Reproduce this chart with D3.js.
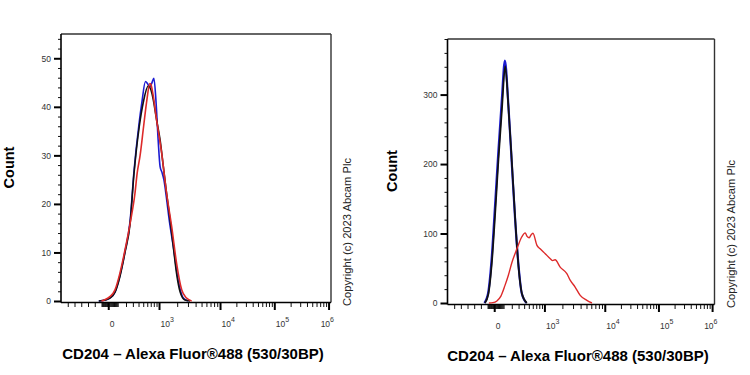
<!DOCTYPE html>
<html>
<head>
<meta charset="utf-8">
<script src="https://cdn.jsdelivr.net/npm/d3@7"></script>
<style>
  body { margin: 0; background: #fff; }
  svg { display: block; font-family: Arial, 'Liberation Sans', sans-serif; }
</style>
</head>
<body>
<svg id="chart"></svg>
<script>
// ---- shared x axis (biexponential display) ----
const xMajorValues = [0, 1e3, 1e4, 1e5, 1e6];
const xMajorLabels = ['0', '10^3', '10^4', '10^5', '10^6'];
// intensity anchors and the display channel (0..1000) they land on
const biexValues = [-700, 0, 1e3, 1e4, 1e5, 1e6];
const biexChannels = [0, 175, 363, 589, 790, 991];

// ---- left panel: [display channel, count] ----
const left_blue = [[140,0],[165,0.2],[181,0.6],[200,1.8],[218,5.2],[237,10.2],[256,16.5],[270,26.5],[289,36.5],[299,40.7],
  [313,45.2],[320,44.8],[329,44.1],[337,45],[344,45.9],[352,41],[360,33],[367,27.7],[374,26.5],[381,25],[390,21.5],
  [400,17],[416,11.2],[434,4.3],[453,0.6],[470,0]];
const left_black = [[140,0],[165,0.2],[181,0.6],[200,1.8],[218,5],[237,10],[256,16],[270,26],[290,36],[305,41],
  [323,44.3],[333,43.5],[342,41.4],[354,37.3],[367,33.2],[379,27.7],[391,22.2],[404,16.7],[416,11.2],[428,5.7],
  [441,1.9],[459,0.2],[478,0]];
const left_red = [[150,0],[160,0.2],[181,0.9],[200,2.3],[218,5.7],[237,10.5],[256,16],[274,22.2],[282,26.3],[293,30],
  [306,36],[318,41.4],[329,44.8],[333,44.6],[340,42.8],[354,37.3],[373,30.4],[391,22.2],[410,15.3],[428,7.8],
  [447,2.3],[465,0.6],[484,0]];

// ---- right panel: [display channel, count] ----
const right_blue = [[138,0],[152,14],[165,62],[178,140],[190,215],[203,290],[215,349],[228,285],[240,206],[253,122],
  [266,54],[278,14],[296,0]];
const right_black = [[140,0],[153,13],[166,58],[179,132],[191,208],[204,280],[216,341],[228,283],[241,203],[254,118],
  [266,52],[279,13],[297,0]];
const right_red = [[155,0],[170,0.5],[185,3],[200,10],[215,25],[228,40],[241,58],[260,78],[278,95],[291,101],[298,96],
  [306,94],[313,98],[320,100.4],[335,83],[347,78],[366,71],[385,63.7],[394,61],[403,62.2],[422,51.7],[447,42.2],
  [460,32.6],[478,23],[497,11],[522,3.9],[541,0]];

const xTitle = 'CD204 \u2013 Alexa Fluor\u00AE488 (530/30BP)';
const yTitle = 'Count';
const note = 'Copyright (c) 2023 Abcam Plc';

const seriesColors = { blue: '#1c1cd2', black: '#111111', red: '#dd2a2a' };

const biexT = v => v < 0 ? v / 250 : Math.asinh(v / 250);

// minor ticks of the biex axis
let xMinorValues = [];
for (let k = 1; k <= 6; k++) xMinorValues.push(-100 * k);
for (let k = 1; k <= 9; k++) { xMinorValues.push(-10 * k); xMinorValues.push(10 * k); xMinorValues.push(100 * k); }
for (let d = 3; d <= 5; d++) for (let k = 2; k <= 9; k++) xMinorValues.push(k * Math.pow(10, d));

class FlowHistogram {
  constructor(config, series) {
    this.config = {
      parent: config.parent,
      left: config.left,
      top: config.top,
      width: config.width,
      height: config.height,
      ymax: config.ymax,
      ymajor: config.ymajor,
      yminor: config.yminor,
      ytitleX: config.ytitleX || -48,
      lineWidth: config.lineWidth || 1.6
    };
    this.series = series;
    this.init();
  }

  init() {
    let self = this;
    const W = self.config.width, H = self.config.height;

    self.chart = self.config.parent.append('g')
      .attr('transform', `translate(${self.config.left}, ${self.config.top})`);

    self.xchan = d3.scaleLinear().domain([0, 1000]).range([0, W]);
    self.xbiex = d3.scaleLinear()
      .domain(biexValues.map(biexT))
      .range(biexChannels.map(c => self.xchan(c)));
    self.yscale = d3.scaleLinear().domain([0, self.config.ymax]).range([H, 0]);

    // y axis ticks
    const ymaj = d3.range(0, self.config.ymax + 1e-6, self.config.ymajor);
    const ymin = d3.range(0, self.config.ymax + 1e-6, self.config.yminor).filter(v => !ymaj.includes(v));

    self.chart.append('g')
      .call(d3.axisLeft(self.yscale).tickValues(ymin).tickSize(3).tickFormat(''))
      .call(g => g.select('.domain').remove())
      .call(g => g.selectAll('line').attr('stroke', '#111').attr('stroke-width', 1));

    self.chart.append('g')
      .call(d3.axisLeft(self.yscale).tickValues(ymaj).tickSize(7).tickPadding(3))
      .call(g => g.select('.domain').remove())
      .call(g => g.selectAll('line').attr('stroke', '#000').attr('stroke-width', 2))
      .call(g => g.selectAll('text').attr('font-size', '8.5px').attr('fill', '#333')
        .attr('font-family', 'Arial, "Liberation Sans", sans-serif'));

    // x axis ticks
    const base = H + 1.5;
    self.chart.append('g')
      .attr('transform', `translate(0, ${base})`)
      .call(d3.axisBottom(self.xbiex).tickValues(xMinorValues.map(biexT)).tickSize(4.5).tickFormat(''))
      .call(g => g.select('.domain').remove())
      .call(g => g.selectAll('line').attr('stroke', '#111').attr('stroke-width', 1));

    self.chart.append('g')
      .attr('transform', `translate(0, ${base})`)
      .call(d3.axisBottom(self.xbiex).tickValues(xMajorValues.map(biexT)).tickSize(7.5).tickFormat(''))
      .call(g => g.select('.domain').remove())
      .call(g => g.selectAll('line').attr('stroke', '#000').attr('stroke-width', 2));

    // x tick labels with superscripts
    xMajorValues.forEach((v, i) => {
      const parts = xMajorLabels[i].split('^');
      const t = self.chart.append('text')
        .attr('y', base + 24)
        .attr('font-size', '8.5px')
        .attr('fill', '#333')
        .text(parts[0]);
      if (parts[1]) {
        t.append('tspan').attr('dy', -5).attr('font-size', '7px').text(parts[1]);
      }
      let x = self.xbiex(biexT(v)) + 1.5;
      const w = t.node().getComputedTextLength();
      if (x + w > W + 3) x = W + 3 - w;
      t.attr('x', x);
    });

    // frame
    self.chart.append('line').attr('x1', 0).attr('x2', W).attr('y1', 0).attr('y2', 0)
      .attr('stroke', '#333').attr('stroke-width', 1.4);
    self.chart.append('line').attr('x1', W).attr('x2', W).attr('y1', 0).attr('y2', base)
      .attr('stroke', '#333').attr('stroke-width', 1.4);
    self.chart.append('line').attr('x1', 0).attr('x2', 0).attr('y1', 0).attr('y2', base)
      .attr('stroke', '#000').attr('stroke-width', 1.6);
    self.chart.append('line').attr('x1', 0).attr('x2', W).attr('y1', base).attr('y2', base)
      .attr('stroke', '#000').attr('stroke-width', 1.6);

    // titles
    self.chart.append('text')
      .attr('transform', `translate(${self.config.ytitleX}, ${H / 2}) rotate(-90)`)
      .attr('text-anchor', 'middle')
      .attr('font-size', '14.5px')
      .attr('font-weight', 'bold')
      .text(yTitle);

    self.chart.append('text')
      .attr('x', W / 2 - 3)
      .attr('y', H + 58)
      .attr('text-anchor', 'middle')
      .attr('font-size', '15px')
      .attr('font-weight', 'bold')
      .text(xTitle);

    self.chart.append('text')
      .attr('transform', `translate(${W + 20}, ${H + 5}) rotate(-90)`)
      .attr('text-anchor', 'start')
      .attr('font-size', '11.2px')
      .attr('fill', '#222')
      .text(note);
  }

  render() {
    let self = this;
    const line = d3.line()
      .x(d => self.xchan(d[0]))
      .y(d => self.yscale(d[1]))
      .curve(d3.curveMonotoneX);

    self.chart.selectAll('path.hist')
      .data(self.series)
      .join('path')
      .attr('class', 'hist')
      .attr('fill', 'none')
      .attr('stroke', d => d.color)
      .attr('stroke-width', d => d.width || self.config.lineWidth)
      .attr('stroke-linejoin', 'round')
      .attr('d', d => line(d.values));
  }
}

const svg = d3.select('#chart').attr('width', 750).attr('height', 375);

const leftPlot = new FlowHistogram(
  { parent: svg, left: 61, top: 34, width: 270, height: 267, ymax: 55, ymajor: 10, yminor: 2, ytitleX: -47.5 },
  [
    { values: left_blue, color: seriesColors.blue },
    { values: left_black, color: seriesColors.black },
    { values: left_red, color: seriesColors.red }
  ]);
leftPlot.render();

const rightPlot = new FlowHistogram(
  { parent: svg, left: 447.5, top: 39, width: 267, height: 264, ymax: 380, ymajor: 100, yminor: 20, ytitleX: -51 },
  [
    { values: right_blue, color: seriesColors.blue, width: 2.2 },
    { values: right_black, color: seriesColors.black, width: 1.8 },
    { values: right_red, color: seriesColors.red, width: 1.4 }
  ]);
rightPlot.render();
</script>
</body>
</html>
